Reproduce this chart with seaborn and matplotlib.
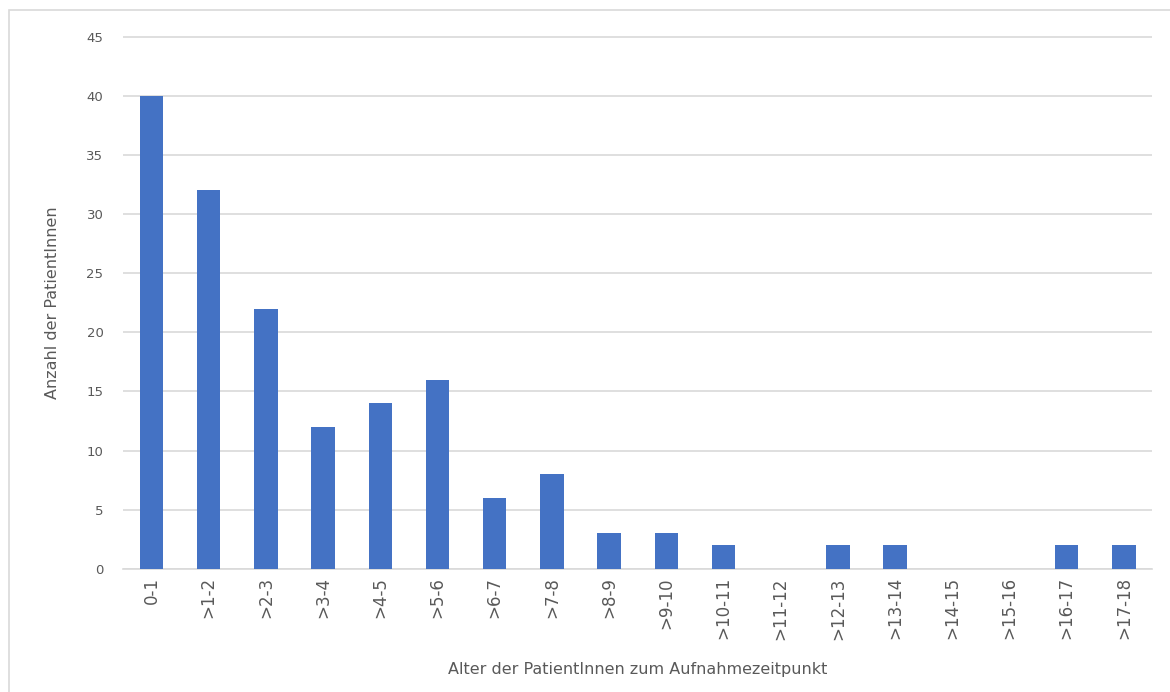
import pandas as pd
import matplotlib
matplotlib.use("Agg")
import matplotlib.pyplot as plt
import seaborn as sns
from matplotlib.patches import Rectangle

# Daten
altersgruppen = ["0-1", ">1-2", ">2-3", ">3-4", ">4-5", ">5-6", ">6-7", ">7-8", ">8-9",
                 ">9-10", ">10-11", ">11-12", ">12-13", ">13-14", ">14-15", ">15-16",
                 ">16-17", ">17-18"]
anzahl = [40, 32, 22, 12, 14, 16, 6, 8, 3, 3, 2, 0, 2, 2, 0, 0, 2, 2]
y_ticks = [0, 5, 10, 15, 20, 25, 30, 35, 40, 45]

df = pd.DataFrame({"alter": altersgruppen, "anzahl": anzahl})

sns.set_theme(style="white")
plt.rcParams['font.family'] = ['DejaVu Sans']

text_color = "#595959"
grid_color = "#D9D9D9"
bar_color = "#4472C4"

fig = plt.figure(figsize=(11.7, 6.92), dpi=100)
ax = fig.add_axes([0.105, 0.178, 0.88, 0.770])

sns.barplot(data=df, x="alter", y="anzahl", color=bar_color, width=0.41,
            saturation=1, linewidth=0, ax=ax, zorder=3)

ax.set_ylim(0, 45.05)
ax.set_xlim(-0.5, len(altersgruppen) - 0.5)
ax.set_yticks(y_ticks)
ax.yaxis.grid(True, color=grid_color, linewidth=1.2, zorder=0)
ax.xaxis.grid(False)
for side in ["top", "right", "left"]:
    ax.spines[side].set_visible(False)
ax.spines["bottom"].set_color(grid_color)
ax.spines["bottom"].set_linewidth(1.2)

ax.tick_params(axis="y", labelsize=9.5, labelcolor=text_color, length=0, pad=14)
ax.tick_params(axis="x", labelsize=12, labelcolor=text_color, length=0, pad=6)
plt.setp(ax.get_xticklabels(), rotation=90)

ax.set_xlabel("Alter der PatientInnen zum Aufnahmezeitpunkt", fontsize=11.5,
              color=text_color, labelpad=16)
ax.set_ylabel("Anzahl der PatientInnen", fontsize=11.5, color=text_color, labelpad=19)

# Rahmen um das Diagramm
fig.patches.append(Rectangle((9 / 1170, -0.01), 1.02, 1 - 10 / 692 + 0.01,
                             transform=fig.transFigure, fill=False,
                             edgecolor=grid_color, linewidth=1.2))

fig.savefig("out.png", dpi=100)
